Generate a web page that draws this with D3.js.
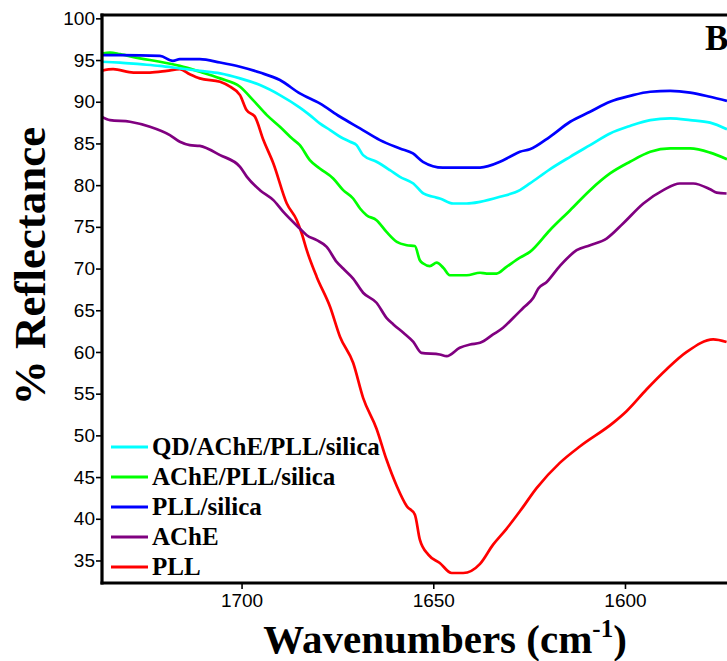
<!DOCTYPE html>
<html>
<head>
<meta charset="utf-8">
<script src="https://cdn.jsdelivr.net/npm/d3@7"></script>
<style>
  html, body { margin: 0; padding: 0; background: #fff; }
  svg { display: block; }
  .tick text { font-family: "Liberation Sans", Arial, sans-serif; font-size: 19px; fill: #000; }
  .serif { font-family: "Liberation Serif", "Times New Roman", serif; font-weight: bold; fill: #000; }
</style>
</head>
<body>
<svg id="chart" width="727" height="661"></svg>
<script>
// FTIR reflectance spectra, amide I region: [wavenumber (cm-1), % reflectance]
const qdAchePllSilica = [
  [1736.9, 94.8], [1731.7, 94.7], [1726.5, 94.5], [1721.3, 94.3], [1716.1, 94.0],
  [1710.9, 93.7], [1705.6, 93.4], [1700.4, 92.8], [1695.2, 92.0], [1690.0, 90.8],
  [1684.8, 89.3], [1682.2, 88.4], [1679.6, 87.4], [1676.9, 86.6], [1674.3, 85.8],
  [1671.7, 85.2], [1670.0, 84.8], [1668.3, 83.6], [1664.8, 82.8], [1661.3, 81.8],
  [1658.7, 81.0], [1655.2, 80.2], [1652.6, 79.0], [1650.0, 78.6], [1648.3, 78.4],
  [1644.8, 77.8], [1641.3, 77.8], [1637.8, 78.0], [1632.6, 78.6], [1627.4, 79.4],
  [1624.8, 80.2], [1619.6, 81.9], [1614.3, 83.4], [1609.1, 84.8], [1603.9, 86.2],
  [1598.7, 87.1], [1593.4, 87.8], [1588.2, 88.0], [1583.0, 87.8], [1577.8, 87.5],
  [1573.4, 86.7]
];
const achePllSilica = [
  [1736.9, 95.7], [1734.3, 95.9], [1731.7, 95.7], [1726.5, 95.2], [1721.3, 94.8],
  [1716.1, 94.3], [1710.9, 93.6], [1705.6, 92.8], [1700.4, 91.8], [1697.0, 90.2],
  [1693.4, 88.4], [1690.0, 87.0], [1686.6, 85.5], [1684.8, 84.8], [1682.2, 83.0],
  [1679.6, 82.0], [1676.1, 80.8], [1673.5, 79.4], [1670.9, 78.4], [1669.1, 77.2],
  [1667.4, 76.4], [1664.8, 75.8], [1662.2, 74.4], [1659.5, 73.2], [1656.9, 72.8],
  [1654.8, 72.7], [1653.5, 71.0], [1652.6, 70.6], [1650.9, 70.3], [1649.1, 70.7],
  [1647.4, 70.1], [1645.7, 69.2], [1641.3, 69.2], [1637.8, 69.5], [1636.1, 69.4],
  [1633.5, 69.4], [1630.9, 70.2], [1627.4, 71.3], [1624.8, 72.0], [1619.6, 74.6],
  [1614.3, 77.0], [1609.1, 79.4], [1603.9, 81.4], [1598.7, 82.8], [1593.4, 84.0],
  [1588.2, 84.4], [1583.0, 84.4], [1577.8, 83.9], [1573.4, 83.1]
];
const pllSilica = [
  [1736.9, 95.6], [1731.7, 95.6], [1721.3, 95.5], [1717.9, 94.9], [1716.1, 95.1],
  [1710.9, 95.1], [1705.6, 94.7], [1700.4, 94.2], [1695.2, 93.5], [1690.0, 92.6],
  [1684.8, 91.0], [1679.6, 89.8], [1674.3, 88.2], [1669.1, 86.8], [1663.9, 85.4],
  [1658.7, 84.4], [1655.3, 83.8], [1652.7, 82.8], [1647.5, 82.1], [1637.8, 82.1],
  [1632.6, 82.8], [1630.0, 83.4], [1627.4, 84.0], [1624.8, 84.3], [1619.6, 85.8],
  [1614.3, 87.6], [1609.1, 88.8], [1603.9, 90.0], [1598.7, 90.7], [1593.4, 91.2],
  [1588.2, 91.3], [1583.0, 91.1], [1577.8, 90.6], [1573.4, 90.1]
];
const ache = [
  [1736.9, 88.3], [1734.3, 87.8], [1729.1, 87.6], [1723.9, 87.0], [1718.7, 86.0],
  [1716.1, 85.2], [1713.5, 84.8], [1710.9, 84.7], [1705.6, 83.6], [1700.4, 82.2],
  [1698.6, 81.0], [1695.2, 79.4], [1691.7, 78.2], [1689.1, 76.8], [1684.8, 74.8],
  [1683.0, 74.0], [1680.4, 73.4], [1677.8, 72.6], [1675.2, 70.8], [1673.5, 70.0],
  [1670.9, 68.8], [1668.3, 67.1], [1664.8, 65.9], [1662.2, 64.1], [1660.4, 63.3],
  [1657.8, 62.3], [1655.2, 61.2], [1653.1, 59.9], [1648.3, 59.7], [1646.5, 59.5],
  [1643.1, 60.5], [1640.4, 60.9], [1637.8, 61.1], [1634.4, 62.1], [1631.8, 62.9],
  [1629.1, 64.1], [1626.5, 65.3], [1623.9, 66.5], [1622.6, 67.6], [1620.4, 68.4],
  [1617.0, 70.3], [1612.6, 72.2], [1609.1, 72.8], [1604.8, 73.6], [1600.5, 75.4],
  [1595.2, 77.8], [1590.0, 79.4], [1585.7, 80.2], [1582.2, 80.2], [1577.8, 79.5],
  [1576.1, 79.1], [1573.5, 79.0]
];
const pll = [
  [1736.9, 93.7], [1733.5, 93.9], [1728.2, 93.5], [1723.9, 93.5], [1719.5, 93.7],
  [1716.1, 93.9], [1713.5, 93.3], [1710.9, 92.8], [1705.6, 92.4], [1703.0, 91.8],
  [1700.4, 90.8], [1698.7, 89.0], [1696.5, 88.2], [1694.3, 85.4], [1691.7, 82.6],
  [1688.2, 77.8], [1685.6, 75.8], [1684.3, 74.2], [1683.0, 72.2], [1680.4, 69.0],
  [1676.9, 65.4], [1674.3, 61.8], [1670.9, 58.7], [1668.3, 54.5], [1664.8, 50.8],
  [1662.2, 47.1], [1659.5, 43.9], [1656.9, 41.5], [1654.8, 40.5], [1653.5, 37.5],
  [1651.3, 35.7], [1648.3, 34.7], [1645.2, 33.5], [1642.2, 33.5], [1637.8, 34.6],
  [1634.4, 36.9], [1630.9, 38.8], [1627.4, 40.9], [1623.0, 43.7], [1617.0, 46.7],
  [1611.7, 48.7], [1603.1, 51.5], [1599.6, 52.9], [1594.4, 55.5], [1589.2, 57.9],
  [1583.9, 60.0], [1577.0, 61.5], [1573.5, 61.2]
];

const seriesNames = ["QD/AChE/PLL/silica", "AChE/PLL/silica", "PLL/silica", "AChE", "PLL"];
const seriesData = [qdAchePllSilica, achePllSilica, pllSilica, ache, pll];
const seriesColors = ["#00ffff", "#00ff00", "#0000ff", "#800080", "#ff0000"];

const xTicks = [1700, 1650, 1600];
const yTicks = [35, 40, 45, 50, 55, 60, 65, 70, 75, 80, 85, 90, 95, 100];
const xDomain = [1736.4, 1570];
const yDomain = [32.3, 100.4];

const svg = d3.select("#chart");
const plotLeft = 102, plotTop = 15, plotBottom = 583, plotRight = 740;

const x = d3.scaleLinear().domain(xDomain).range([plotLeft, plotRight]);
const y = d3.scaleLinear().domain(yDomain).range([plotBottom, plotTop]);

svg.append("defs").append("clipPath").attr("id", "plot-clip")
  .append("rect").attr("x", plotLeft).attr("y", plotTop)
  .attr("width", plotRight - plotLeft).attr("height", plotBottom - plotTop);

// spectra
const line = d3.line().x(d => x(d[0])).y(d => y(d[1])).curve(d3.curveMonotoneX);
const plot = svg.append("g").attr("clip-path", "url(#plot-clip)");
// back-to-front order so the blue/cyan traces stay on top at the left edge
[4, 3, 1, 0, 2].forEach(i => {
  plot.append("path")
    .datum(seriesData[i])
    .attr("fill", "none")
    .attr("stroke", seriesColors[i])
    .attr("stroke-width", 2.7)
    .attr("stroke-linejoin", "round")
    .attr("d", line);
});

// axes
const yAxis = svg.append("g").attr("transform", `translate(${plotLeft},0)`)
  .call(d3.axisLeft(y).tickValues(yTicks).tickSize(6).tickPadding(1).tickFormat(d3.format("d")));
const xAxis = svg.append("g").attr("transform", `translate(0,${plotBottom})`)
  .call(d3.axisBottom(x).tickValues(xTicks).tickSize(6).tickPadding(5).tickFormat(d3.format("d")));
[yAxis, xAxis].forEach(g => {
  g.select(".domain").remove();
  g.selectAll(".tick line").attr("stroke", "#000").attr("stroke-width", 1.6);
});

// frame: left, bottom, top
svg.append("line").attr("x1", plotLeft).attr("x2", plotLeft).attr("y1", plotTop - 1.5).attr("y2", plotBottom + 1.5)
  .attr("stroke", "#000").attr("stroke-width", 3.2);
svg.append("line").attr("x1", plotLeft - 1.5).attr("x2", plotRight).attr("y1", plotBottom).attr("y2", plotBottom)
  .attr("stroke", "#000").attr("stroke-width", 3.2);
svg.append("line").attr("x1", plotLeft - 1.5).attr("x2", plotRight).attr("y1", plotTop).attr("y2", plotTop)
  .attr("stroke", "#000").attr("stroke-width", 3.2);

// axis titles
const xt = svg.append("text").attr("class", "serif")
  .attr("x", 445).attr("y", 653).attr("text-anchor", "middle").style("font-size", "41px");
xt.append("tspan").text("Wavenumbers (cm");
xt.append("tspan").attr("dy", -16).style("font-size", "25px").text("-1");
xt.append("tspan").attr("dy", 16).text(")");

svg.append("text").attr("class", "serif")
  .attr("transform", "translate(45,266) rotate(-90)")
  .attr("text-anchor", "middle").style("font-size", "45px")
  .text("% Reflectance");

// panel letter
svg.append("text").attr("class", "serif")
  .attr("x", 705).attr("y", 50).style("font-size", "35px").text("B");

// legend
const legend = svg.append("g");
seriesNames.forEach((name, i) => {
  const ly = 447 + i * 30;
  legend.append("line").attr("x1", 111).attr("x2", 148).attr("y1", ly).attr("y2", ly)
    .attr("stroke", seriesColors[i]).attr("stroke-width", 3);
  legend.append("text").attr("class", "serif")
    .attr("x", 152).attr("y", ly + 8).style("font-size", "25px").text(name);
});
</script>
</body>
</html>
